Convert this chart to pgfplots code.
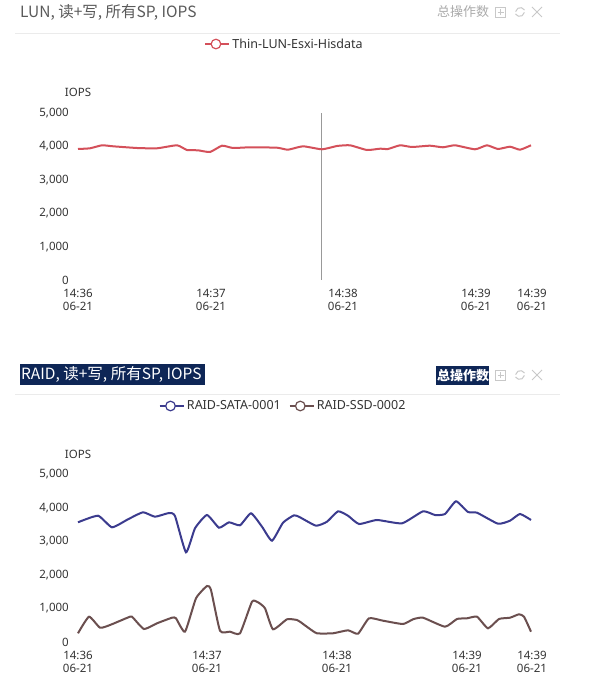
\documentclass[border=0pt]{standalone}
\usepackage{pgfplots}
\pgfplotsset{compat=1.18}
\usepackage{pgfplotstable}
\usepackage{fontspec}
\setmainfont{Noto Sans}
\newfontfamily\cjk{Noto Sans CJK SC}
\definecolor{redl}{HTML}{D4505A}
\definecolor{bluel}{HTML}{3B3B8E}
\definecolor{brownl}{HTML}{6B4F4F}
\definecolor{navyhl}{HTML}{0E2656}
\definecolor{titlegray}{HTML}{5A5A5A}
\definecolor{lightgr}{HTML}{ABABAB}
\definecolor{icongr}{HTML}{C8C8C8}
\definecolor{txt}{HTML}{333333}

\pgfplotstableread{
x y
0 3922
12 3943
24 4033
35 4003
59 3952
79 3943
99 4033
109 3892
120 3883
132 3832
144 4021
155 3952
172 3973
199 3961
210 3901
225 4003
244 3913
259 4012
272 4033
289 3892
302 3931
310 3922
322 4033
334 3982
352 4021
365 3973
377 4033
397 3913
409 4033
420 3922
432 3991
442 3901
453 4033
}\lundata

\pgfplotstableread{
x y
0 3573
20 3770
34 3424
50 3663
65 3872
77 3740
91 3851
97 3761
108 2678
117 3394
129 3791
141 3412
151 3573
162 3484
173 3842
184 3442
194 3024
205 3561
216 3782
222 3722
238 3472
249 3591
260 3901
270 3770
281 3522
299 3642
324 3543
345 3901
357 3791
367 3821
378 4200
390 3881
399 3860
420 3531
432 3621
442 3821
453 3642
}\satadata

\pgfplotstableread{
x y
0 260
11 755
22 427
32 507
52 755
55 725
66 388
79 558
94 725
98 707
107 308
118 1304
129 1672
133 1550
142 337
152 308
162 260
174 1203
180 1185
187 1006
195 379
209 678
219 657
222 606
231 409
239 260
255 260
270 349
280 248
291 707
305 636
325 537
335 678
345 725
367 457
379 687
389 707
399 755
410 409
421 687
432 725
441 827
446 755
453 308
}\ssddata

\pgfplotsset{
  iops/.style={
    scale only axis, width=454pt, height=167pt,
    xmin=0, xmax=454, ymin=0, ymax=5000,
    axis line style={draw=none}, major tick length=0pt, tick style={draw=none},
    clip=false,
    ytick={0,1000,2000,3000,4000,5000},
    /pgf/number format/.cd, 1000 sep={,}, assume math mode=true, /pgfplots/.cd,
    yticklabel style={inner sep=0pt, xshift=-9pt, font=\fontsize{11.5}{13}\selectfont, text=txt},
    xticklabel style={inner sep=0pt, yshift=-8.5pt, align=center, font=\fontsize{11.5}{13}\selectfont, text=txt},
    legend style={draw=none, fill=none, legend columns=-1, font=\fontsize{12.5}{14}\selectfont, text=txt,
      /tikz/every even column/.append style={column sep=6pt}},
    legend image code/.code={
      \path (0pt,0pt) -- (24pt,0pt);
      \draw[#1, line width=1.2pt] (0pt,0pt) -- (21pt,0pt);
      \draw[#1, line width=1.2pt, fill=white] (10.5pt,0pt) circle (4.8pt);
    },
  }
}

\begin{document}
\begin{tikzpicture}[x=1pt,y=1pt]
\useasboundingbox (0,0) rectangle (606,691);
\fill[white] (0,0) rectangle (606,691);

% ---- top header
\node[anchor=west, inner sep=0pt, text=titlegray, font=\cjk\fontsize{15.5}{17}\selectfont] at (20,679) {LUN, 读+写, 所有SP, IOPS};
\node[anchor=west, inner sep=0pt, text=lightgr, font=\cjk\fontsize{13}{15}\selectfont] at (437,679) {总操作数};
\draw[icongr, line width=0.8pt] (495.5,674) rectangle (505.5,684);
\draw[icongr, line width=0.8pt] (497.5,679) -- (503.5,679) (500.5,676) -- (500.5,682);
\draw[icongr, line width=1pt] (524.5,681) arc (30:170:4.8);
\draw[icongr, line width=1pt] (515.5,677) arc (210:350:4.8);
\draw[icongr, line width=1pt] (532,674) -- (542,684) (532,684) -- (542,674);
\draw[black!8, line width=0.8pt] (15,658) -- (560,658);

% ---- bottom header
\fill[navyhl] (20,306) rectangle (205,327);
\node[anchor=west, inner sep=0pt, text=white, font=\cjk\fontsize{15.5}{17}\selectfont] at (21,317) {RAID, 读+写, 所有SP, IOPS};
\fill[navyhl] (436,306) rectangle (489,324.5);
\node[anchor=west, inner sep=0pt, text=white, font=\cjk\bfseries\fontsize{13}{15}\selectfont] at (437,315.5) {总操作数};
\draw[icongr, line width=0.8pt] (495.5,311) rectangle (505.5,321);
\draw[icongr, line width=0.8pt] (497.5,316) -- (503.5,316) (500.5,313) -- (500.5,319);
\draw[icongr, line width=1pt] (524.5,318) arc (30:170:4.8);
\draw[icongr, line width=1pt] (515.5,314) arc (210:350:4.8);
\draw[icongr, line width=1pt] (532,311) -- (542,321) (532,321) -- (542,311);
\draw[black!8, line width=0.8pt] (15,297) -- (560,297);

% ---- top chart
\begin{axis}[iops, at={(78pt,411pt)}, anchor=south west,
  xtick={0,133,265,398,454},
  xticklabels={{14:36\\06-21},{14:37\\06-21},{14:38\\06-21},{14:39\\06-21},{14:39\\06-21}},
  legend style={at={(axis description cs:0.455,1.413)}, anchor=center},
]
\draw[black!40, line width=0.8pt] (axis cs:243,0) -- (axis cs:243,5000);
\addplot[redl, line width=2pt, smooth, tension=0.3] table[x=x,y=y] {\lundata};
\addlegendentry{Thin-LUN-Esxi-Hisdata}
\node[anchor=south, inner sep=0pt, font=\fontsize{11.5}{13}\selectfont, text=txt] at (rel axis cs:0,1) [yshift=16pt] {IOPS};
\end{axis}

% ---- bottom chart
\begin{axis}[iops, at={(78pt,49pt)}, anchor=south west, height=167.5pt,
  xtick={0,129,259,389,454},
  xticklabels={{14:36\\06-21},{14:37\\06-21},{14:38\\06-21},{14:39\\06-21},{14:39\\06-21}},
  legend style={at={(axis description cs:0.452,1.409)}, anchor=center},
]
\addplot[bluel, line width=2pt, smooth, tension=0.3] table[x=x,y=y] {\satadata};
\addlegendentry{RAID-SATA-0001}
\addplot[brownl, line width=2pt, smooth, tension=0.3] table[x=x,y=y] {\ssddata};
\addlegendentry{RAID-SSD-0002}
\node[anchor=south, inner sep=0pt, font=\fontsize{11.5}{13}\selectfont, text=txt] at (rel axis cs:0,1) [yshift=16pt] {IOPS};
\end{axis}
\end{tikzpicture}
\end{document}
